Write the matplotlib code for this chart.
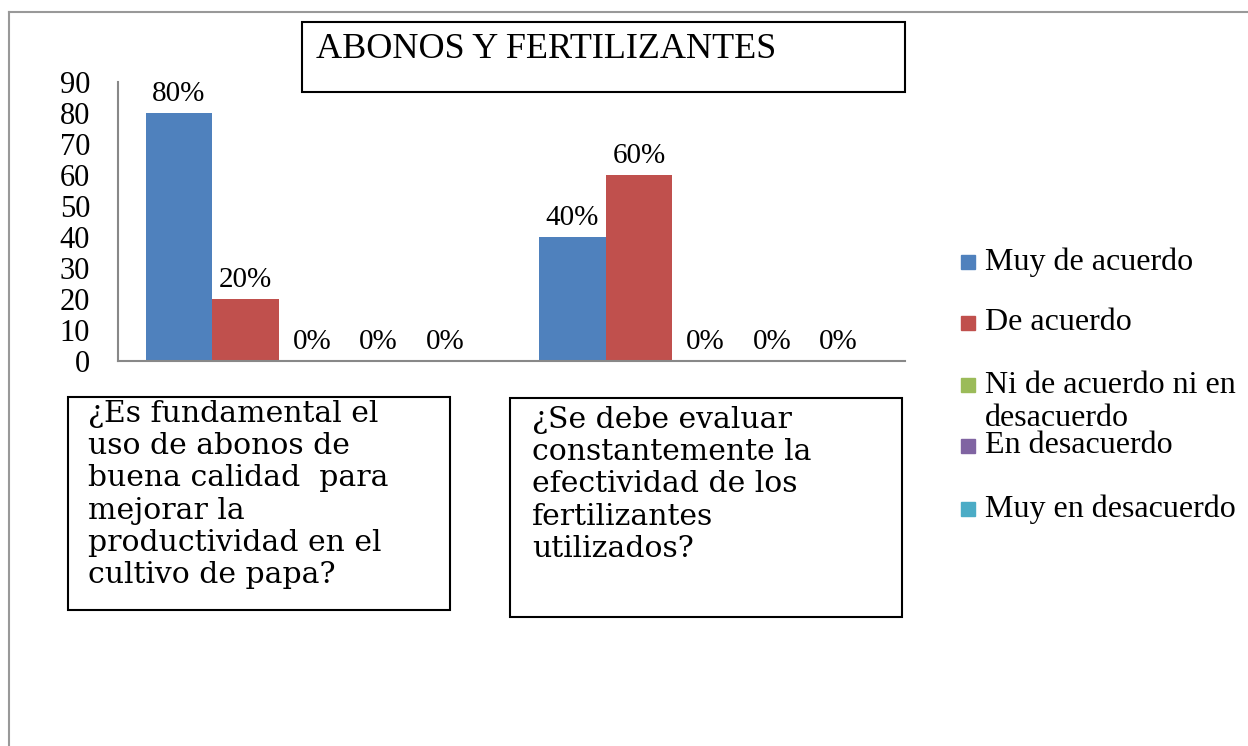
import numpy as np
import matplotlib.pyplot as plt
from matplotlib.patches import Rectangle

series = ['Muy de acuerdo', 'De acuerdo', 'Ni de acuerdo ni en\ndesacuerdo',
          'En desacuerdo', 'Muy en desacuerdo']
colors = ['#4F81BD', '#C0504D', '#9BBB59', '#8064A2', '#4BACC6']
values = [[80, 40], [20, 60], [0, 0], [0, 0], [0, 0]]
labels = [['80%', '40%'], ['20%', '60%'], ['0%', '0%'], ['0%', '0%'], ['0%', '0%']]
title = 'ABONOS Y FERTILIZANTES'
question1 = ['¿Es fundamental el', 'uso de abonos de', 'buena calidad  para',
             'mejorar la', 'productividad en el', 'cultivo de papa?']
question2 = ['¿Se debe evaluar', 'constantemente la', 'efectividad de los',
             'fertilizantes', 'utilizados?']
yticks = list(range(0, 100, 10))

W, H = 1248, 746
fig = plt.figure(figsize=(W / 100, H / 100), dpi=100)
plt.rcParams['font.family'] = ['Liberation Serif', 'DejaVu Serif']


def fx(px):
    return px / W


def fy(py):
    return 1 - py / H


def box(x0, y0, x1, y1, color='black', lw=1.5):
    fig.add_artist(Rectangle((fx(x0), fy(y1)), fx(x1) - fx(x0), fy(y0) - fy(y1),
                             transform=fig.transFigure, fill=False,
                             edgecolor=color, linewidth=lw))


# outer border (only top and left visible)
fig.add_artist(plt.Line2D([fx(9), 1], [fy(12), fy(12)], color='#999999', lw=1.5))
fig.add_artist(plt.Line2D([fx(9), fx(9)], [fy(12), 0], color='#999999', lw=1.5))

ax = fig.add_axes([fx(118), fy(361), fx(905) - fx(118), fy(82) - fy(361)])
x = np.arange(2)
w = 0.169
for i, name in enumerate(series):
    pos = x + (i - 2) * w - 0.007
    bars = ax.bar(pos, values[i], w, color=colors[i])
    for b, lab in zip(bars, labels[i]):
        ax.annotate(lab, (b.get_x() + b.get_width() / 2, b.get_height()),
                    xytext=(0, 4), textcoords='offset points',
                    ha='center', va='bottom', fontsize=21)

ax.set_xlim(-0.5, 1.5)
ax.set_ylim(0, 90)
ax.set_yticks(yticks)
ax.tick_params(axis='y', labelsize=22, length=0, pad=20)
ax.set_xticks([])
for s in ['top', 'right']:
    ax.spines[s].set_visible(False)
for s in ['left', 'bottom']:
    ax.spines[s].set_color('#888888')
    ax.spines[s].set_linewidth(1.5)

# title box
box(302, 22, 905, 92)
fig.text(fx(316), fy(50), title, fontsize=26, va='center', ha='left')

# question boxes
box(68, 397, 450, 610)
box(510, 398, 902, 617)
for j, line in enumerate(question1):
    fig.text(fx(88), fy(414 + j * 32.2), line, fontsize=21.5, family='DejaVu Serif',
             va='center', ha='left')
for j, line in enumerate(question2):
    fig.text(fx(532), fy(420 + j * 32.2), line, fontsize=21.5, family='DejaVu Serif',
             va='center', ha='left')

# legend
rows = [262, 323, 402, 446, 509]
for name, c, ry in zip(series, colors, rows):
    sy = ry - 17 if '\n' in name else ry
    fig.add_artist(Rectangle((fx(961), fy(sy + 7)), fx(14), 14 / H,
                             transform=fig.transFigure, color=c))
    fig.text(fx(985), fy(ry), name, fontsize=23, va='center',
             ha='left', linespacing=1.2)

fig.savefig('out.png', dpi=100)
